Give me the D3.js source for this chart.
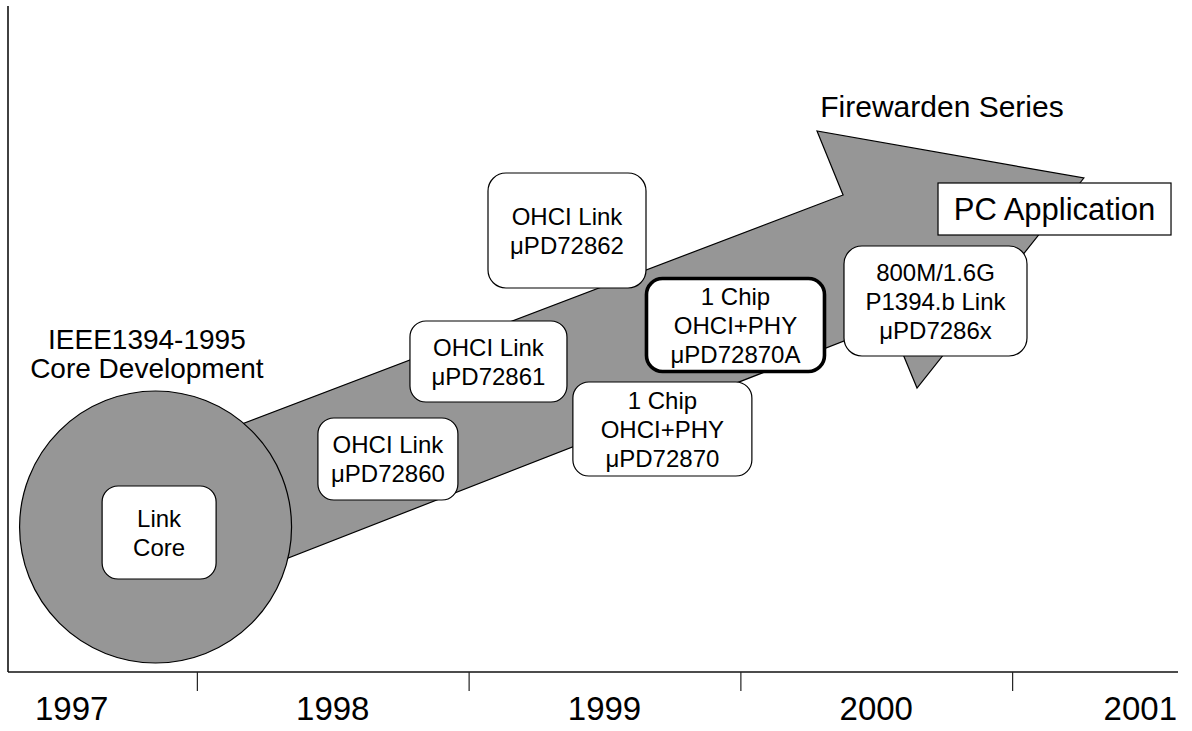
<!DOCTYPE html>
<html>
<head>
<meta charset="utf-8">
<script src="https://cdn.jsdelivr.net/npm/d3@7"></script>
<style>
  html, body { margin: 0; padding: 0; background: #fff; }
  svg { display: block; }
  text { font-family: "Liberation Sans", Arial, Helvetica, sans-serif; fill: #000; }
</style>
</head>
<body>
<svg id="chart" width="1192" height="731"></svg>
<script>
// ---------- data ----------
const years = ["1997", "1998", "1999", "2000", "2001"];
const tickYears = [1997.5, 1998.5, 1999.5, 2000.5];

const milestoneLabels = [
  ["Link", "Core"],
  ["OHCI Link", "\u03bcPD72860"],
  ["OHCI Link", "\u03bcPD72861"],
  ["OHCI Link", "\u03bcPD72862"],
  ["1 Chip", "OHCI+PHY", "\u03bcPD72870"],
  ["1 Chip", "OHCI+PHY", "\u03bcPD72870A"],
  ["800M/1.6G", "P1394.b Link", "\u03bcPD7286x"],
  ["PC Application"]
];
// time of each milestone (fractional year)
const milestoneTimes = [1997.361, 1998.203, 1998.573, 1998.862, 1999.213, 1999.482, 2000.218, 2000.656];

const coreTitle = ["IEEE1394-1995", "Core Development"];
const seriesTitle = "Firewarden Series";

// ---------- layout (positions / sizes / styles) ----------
const W = 1192, H = 731;
const axisY = 672, axisTop = 6, axisLeft = 8, axisRight = 1178;
const yearFont = 33, labelMinX = 35, labelMaxX = 1177;

// vertical position = height above the time axis; box sizes
const boxLayout = [
  { h: 139.5, w: 114, ht: 93,  rx: 16, sw: 1.2, fs: 24 },
  { h: 213,   w: 140, ht: 82,  rx: 16, sw: 1.2, fs: 24 },
  { h: 310.5, w: 157, ht: 81,  rx: 16, sw: 1.2, fs: 24 },
  { h: 441.5, w: 158, ht: 115, rx: 18, sw: 1.2, fs: 24 },
  { h: 243,   w: 179, ht: 94,  rx: 16, sw: 1.2, fs: 24 },
  { h: 347,   w: 178, ht: 93,  rx: 16, sw: 3.6, fs: 24 },
  { h: 371,   w: 183, ht: 110, rx: 18, sw: 1.2, fs: 24 },
  { h: 463,   w: 233, ht: 52,  rx: 0,  sw: 1.2, fs: 31 }
];

// arrow outline: [time, height above axis]
const arrowShape = [
  [1997.346, 215],
  [1999.878, 477],
  [1999.782, 541],
  [2000.764, 494],
  [2000.150, 284],
  [2000.051, 349],
  [1997.346, 62]
];
const circleShape = { t: 1997.348, h: 145, r: 136 };

// ---------- scales ----------
const x = d3.scaleLinear().domain([1997, 2001]).range([61, 1148]);
const y = d3.scaleLinear().domain([0, axisY - axisTop]).range([axisY, axisTop]);

const svg = d3.select("#chart");
const gray = "#969696";

// axes frame
svg.append("line")
  .attr("x1", axisLeft).attr("x2", axisLeft)
  .attr("y1", axisTop).attr("y2", axisY)
  .attr("stroke", "#111").attr("stroke-width", 1.6);
svg.append("line")
  .attr("x1", axisLeft).attr("x2", axisRight)
  .attr("y1", axisY).attr("y2", axisY)
  .attr("stroke", "#111").attr("stroke-width", 1.6);

const axis = d3.axisBottom(x).tickValues(tickYears).tickFormat("").tickSize(19).tickSizeOuter(0);
const gAxis = svg.append("g").attr("transform", `translate(0,${axisY})`).call(axis);
gAxis.select(".domain").remove();
gAxis.selectAll(".tick line").attr("stroke", "#222").attr("stroke-width", 1.2);

// year labels, kept inside the axis extent
const yearLabels = svg.append("g").selectAll("text").data(years).join("text")
  .attr("y", 720)
  .attr("text-anchor", "middle")
  .attr("font-size", yearFont)
  .text(d => d);
yearLabels.each(function(d) {
  const w = this.getComputedTextLength();
  let cx = x(+d);
  cx = Math.max(cx, labelMinX + w / 2);
  cx = Math.min(cx, labelMaxX - w / 2);
  d3.select(this).attr("x", cx);
});

// big arrow
svg.append("path")
  .attr("d", d3.line().x(d => x(d[0])).y(d => y(d[1]))(arrowShape) + "Z")
  .attr("fill", gray).attr("stroke", "#000").attr("stroke-width", 1.2)
  .attr("stroke-linejoin", "miter");

// core circle
svg.append("circle")
  .attr("cx", x(circleShape.t)).attr("cy", y(circleShape.h))
  .attr("r", circleShape.r)
  .attr("fill", gray).attr("stroke", "#000").attr("stroke-width", 1.2);

// titles
svg.append("g").selectAll("text").data(coreTitle).join("text")
  .attr("x", x(1997.316))
  .attr("y", (d, i) => y(323) + i * 29)
  .attr("text-anchor", "middle")
  .attr("font-size", 28)
  .text(d => d);

svg.append("text")
  .attr("x", x(2000.242)).attr("y", y(555))
  .attr("text-anchor", "middle")
  .attr("font-size", 30)
  .text(seriesTitle);

// milestone boxes
const lineGap = 29;
const boxes = svg.append("g").selectAll("g")
  .data(milestoneLabels.map((lines, i) => ({ lines, t: milestoneTimes[i], ...boxLayout[i] })))
  .join("g")
  .attr("transform", d => `translate(${x(d.t)},${y(d.h)})`);

boxes.append("rect")
  .attr("x", d => -d.w / 2).attr("y", d => -d.ht / 2)
  .attr("width", d => d.w).attr("height", d => d.ht)
  .attr("rx", d => d.rx).attr("ry", d => d.rx)
  .attr("fill", "#fff").attr("stroke", "#000")
  .attr("stroke-width", d => d.sw);

boxes.each(function(d) {
  const n = d.lines.length;
  d3.select(this).selectAll("text").data(d.lines).join("text")
    .attr("x", 0)
    .attr("y", (s, i) => (i - (n - 1) / 2) * lineGap + d.fs * 0.36)
    .attr("text-anchor", "middle")
    .attr("font-size", d.fs)
    .text(s => s);
});
</script>
</body>
</html>
